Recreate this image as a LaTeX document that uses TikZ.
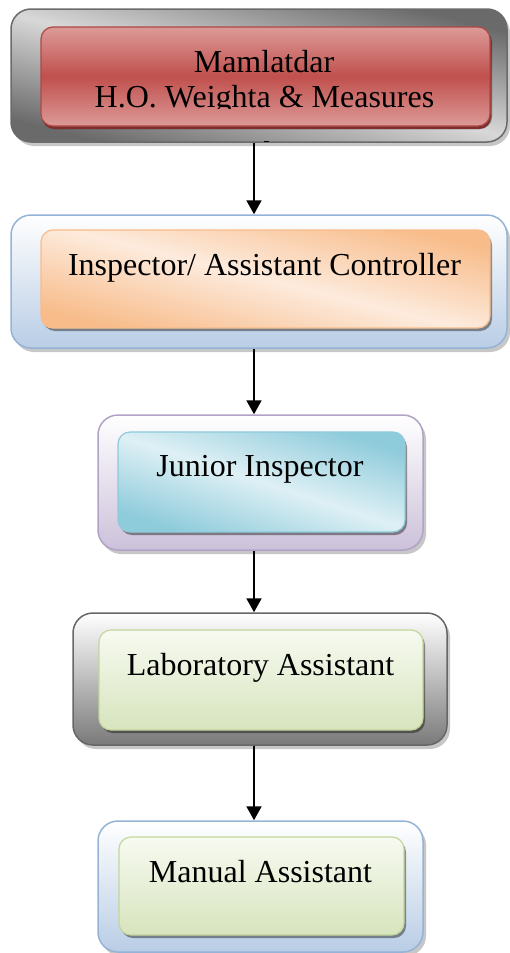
\documentclass[tikz,border=0pt]{standalone}
\usepackage{fontspec}
\setmainfont{Liberation Serif}
\usetikzlibrary{arrows.meta,shadows}
\definecolor{grayD}{HTML}{6A6A6A}
\definecolor{grayL}{HTML}{D8D8D8}
\definecolor{redM}{HTML}{C0504D}
\definecolor{redL}{HTML}{DC9A98}
\definecolor{redS}{HTML}{7E2E2C}
\definecolor{blueB}{HTML}{95B3D7}
\definecolor{blueF}{HTML}{B9CDE5}
\definecolor{orgM}{HTML}{F8BC8A}
\definecolor{orgL}{HTML}{FDEBDD}
\definecolor{purB}{HTML}{B2A2C7}
\definecolor{purF}{HTML}{CCC1DA}
\definecolor{cyanM}{HTML}{8ECBDB}
\definecolor{cyanL}{HTML}{DEF0F5}
\definecolor{grnB}{HTML}{C3D69B}
\definecolor{grnF}{HTML}{D7E4BD}
\definecolor{grnT}{HTML}{F7FAF1}
\definecolor{gryB}{HTML}{666666}
\definecolor{gryF}{HTML}{7A7A7A}
\tikzset{
  outerbox/.style={rectangle, rounded corners=20pt, draw, line width=1.5pt, inner sep=0pt,
    drop shadow={shadow xshift=3pt, shadow yshift=-4pt, fill=black, opacity=0.22}},
  innerbox/.style={rectangle, rounded corners=12pt, draw, line width=1.2pt, inner sep=0pt,
    drop shadow={shadow xshift=2pt, shadow yshift=-3pt, fill=black, opacity=0.4}},
  lbl/.style={font=\fontsize{32}{35}\selectfont, anchor=base, inner sep=0pt},
  arr/.style={line width=2pt, -{Triangle[length=14pt,width=15pt]}},
}
\begin{document}
\begin{tikzpicture}[x=1pt,y=-1pt]
\useasboundingbox (0,0) rectangle (509,953);
% outer boxes
\node[outerbox, draw=grayD, top color=grayD, bottom color=grayD, middle color=grayL, shading angle=-14,
  minimum width=496pt, minimum height=133pt] (o1) at (259,75.5) {};
\node[outerbox, draw=blueB, top color=white, bottom color=blueF,
  minimum width=496pt, minimum height=133pt] (o2) at (259,281.5) {};
\node[outerbox, draw=purB, top color=white, bottom color=purF,
  minimum width=325pt, minimum height=135pt] (o3) at (260.5,482.5) {};
\node[outerbox, draw=gryB, top color=white, bottom color=gryF,
  minimum width=374pt, minimum height=132pt] (o4) at (260,679) {};
\node[outerbox, draw=blueB, top color=white, bottom color=blueF,
  minimum width=325pt, minimum height=131pt] (o5) at (260.5,886.5) {};
% inner boxes
\node[innerbox, draw=redM!90!black, top color=redL, bottom color=redL, middle color=redM,
  drop shadow={shadow xshift=1pt, shadow yshift=-3pt, fill=redS, opacity=1},
  minimum width=449pt, minimum height=99pt] (i1) at (265.5,76.5) {};
\node[innerbox, draw=orgM, top color=orgM, bottom color=orgM, middle color=orgL, shading angle=-14,
  minimum width=449pt, minimum height=98pt] (i2) at (265.5,279) {};
\node[innerbox, draw=cyanM, top color=cyanM, bottom color=cyanM, middle color=cyanL, shading angle=-18,
  minimum width=287pt, minimum height=100pt] (i3) at (261.5,482) {};
\node[innerbox, draw=grnB, top color=grnT, bottom color=grnF,
  minimum width=324pt, minimum height=100pt] (i4) at (261,680) {};
\node[innerbox, draw=grnB, top color=grnT, bottom color=grnF,
  minimum width=285pt, minimum height=98pt] (i5) at (261.5,886) {};
% texts
\begin{scope}
\clip (0,0) rectangle (509,108.5);
\node[lbl] (t1a) at (264,72) {Mamlatdar};
\node[lbl] (t1b) at (264.5,107) {H.O. Weighta \& Measures};
\end{scope}
\node[lbl] (t2) at (264.5,275) {Inspector/ Assistant Controller};
\node[lbl] (t3) at (260,476) {Junior Inspector};
\node[lbl] (t4) at (260.5,675) {Laboratory Assistant};
\node[lbl] (t5) at (260.5,882) {Manual Assistant};
% arrows
\draw[arr] (254,0 |- o1.south) -- (254,0 |- o2.north);
\draw[arr] (254,0 |- o2.south) -- (254,0 |- o3.north);
\draw[arr] (254,0 |- o3.south) -- (254,0 |- o4.north);
\draw[arr] (254,0 |- o4.south) -- (254,0 |- o5.north);
\coordinate (m1) at (264,141.5);
\coordinate (m2) at (269,141.5);
\draw[line width=1pt] (m1) -- (m2);
\end{tikzpicture}
\end{document}
